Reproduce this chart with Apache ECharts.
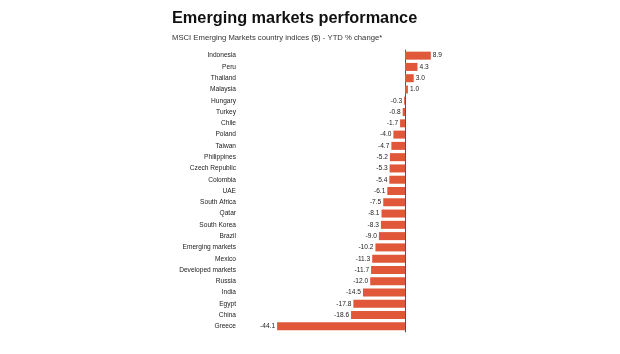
<!DOCTYPE html>
<html>
<head>
<meta charset="utf-8">
<script src="https://cdn.jsdelivr.net/npm/echarts@6/dist/echarts.min.js"></script>
<style>
	html, body { margin: 0; padding: 0; background: #fff; }
	#main { width: 620px; height: 354px; }
</style>
</head>
<body>
<div id="main"></div>
<script>
// categories, top to bottom
var countries = ['Indonesia', 'Peru', 'Thailand', 'Malaysia', 'Hungary', 'Turkey', 'Chile', 'Poland',
	'Taiwan', 'Philippines', 'Czech Republic', 'Colombia', 'UAE', 'South Africa', 'Qatar', 'South Korea',
	'Brazil', 'Emerging markets', 'Mexico', 'Developed markets', 'Russia', 'India', 'Egypt', 'China', 'Greece'];
// YTD % change
var ytdChange = [8.9, 4.3, 3.0, 1.0, -0.3, -0.8, -1.7, -4.0,
	-4.7, -5.2, -5.3, -5.4, -6.1, -7.5, -8.1, -8.3,
	-9.0, -10.2, -11.3, -11.7, -12.0, -14.5, -17.8, -18.6, -44.1];

var myChart = echarts.init(document.getElementById('main'));

// label goes on the outer end of each bar
var barData = ytdChange.map(function (v) {
	return {
		value: v,
		label: { position: v < 0 ? 'left' : 'right' }
	};
});

myChart.setOption({
	animation: false,
	title: [{
		text: 'Emerging markets performance',
		left: 167,
		top: 6,
		textStyle: { fontFamily: 'Liberation Sans', fontSize: 16.3, fontWeight: 'bold', color: '#111' }
	}, {
		text: 'MSCI Emerging Markets country indices ($) - YTD % change*',
		left: 167,
		top: 29,
		textStyle: { fontFamily: 'Liberation Sans', fontSize: 7.7, fontWeight: 'normal', color: '#333' }
	}],
	grid: {
		left: 260,
		width: 174,
		top: 50,
		height: 282
	},
	xAxis: {
		type: 'value',
		min: -50,
		max: 10,
		show: false
	},
	yAxis: {
		type: 'category',
		data: countries,
		inverse: true,
		axisLine: { show: true, onZero: true, lineStyle: { color: '#555', width: 1 } },
		axisTick: { show: false },
		splitLine: { show: false },
		axisLabel: {
			margin: 24,
			fontFamily: 'Liberation Sans',
			fontSize: 6.6,
			color: '#222'
		}
	},
	series: [{
		type: 'bar',
		data: barData,
		barWidth: 8,
		itemStyle: { color: '#e0573a' },
		label: {
			show: true,
			distance: 2,
			fontFamily: 'Liberation Sans',
			fontSize: 6.6,
			color: '#222',
			formatter: function (p) { return p.value.toFixed(1); }
		}
	}]
});
</script>
</body>
</html>
